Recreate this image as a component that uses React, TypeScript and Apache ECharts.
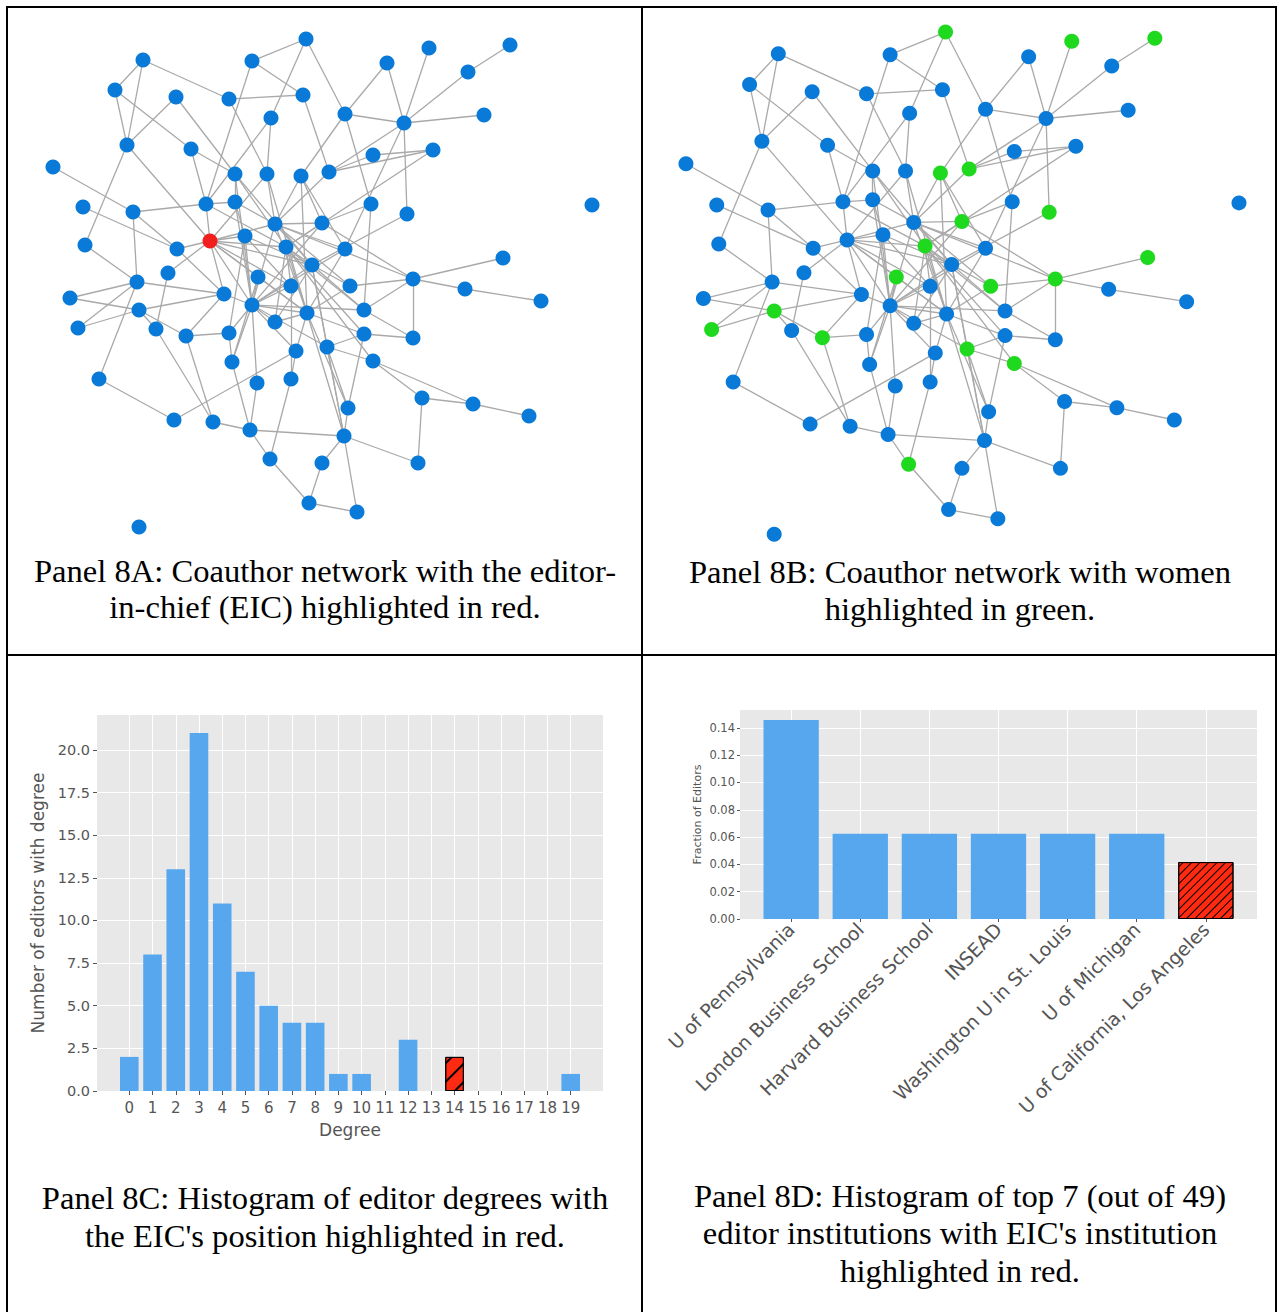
import React, { useEffect, useRef } from 'react';
import * as echarts from 'echarts';

const nodeX = [143,115,176,252,306,229,303,271,387,429,468,510,345,404,484,127,191,433,373,53,235,267,301,329,83,133,206,235,371,407,592,85,177,210,245,275,322,286,345,168,137,258,312,503,413,70,224,252,291,350,465,541,139,78,156,186,229,275,307,364,364,413,296,327,232,373,99,257,291,422,473,529,348,174,213,250,344,270,322,418,309,357,139];
const nodeY = [60,90,97,61,39,99,95,118,63,48,72,45,114,123,115,145,149,150,155,167,174,174,176,172,207,212,204,202,204,214,205,245,249,241,236,224,223,247,249,273,282,277,265,258,279,298,294,305,286,286,289,301,310,328,329,336,333,322,313,310,334,338,351,347,362,361,379,383,379,398,404,416,408,420,422,430,436,459,463,463,503,512,527];

const edges: [number, number][] = [
  [1,2],[1,6],[1,16],[2,16],[2,17],[3,16],[3,21],[4,5],[4,7],[4,27],[5,8],[5,13],[6,7],[6,22],[7,24],[8,22],[8,27],
  [9,13],[9,14],[10,14],[11,14],[11,12],[14,15],[13,14],[14,30],[14,24],[14,39],[13,29],[13,23],[18,19],[18,24],[19,24],[29,37],[29,60],[30,43],[37,45],[44,45],
  [16,32],[16,34],[17,21],[17,27],[20,26],[25,33],[26,27],[26,41],[26,33],[32,41],[21,28],[27,28],[27,34],[28,35],[34,35],[33,34],[22,36],
  [45,50],[45,51],[51,52],[45,62],[60,62],[45,60],[61,62],[61,64],[66,70],[66,71],[70,71],[71,72],[70,80],[77,80],[77,82],[77,79],[81,82],[61,73],[64,66],
  [41,46],[46,53],[53,54],[41,54],[41,67],[67,74],[63,74],[55,75],[56,75],[75,76],[76,77],[76,78],[78,81],[69,78],[65,76],[68,76],[57,65],[56,57],[47,56],[47,53],[53,56],[40,55],[48,68],[48,57],[48,58],[47,48],[42,48],[48,49],[58,59],[63,69],[79,81],[41,47],[53,55],
  [34,36],[34,38],[34,42],[34,47],[34,48],[34,49],[34,43],[34,59],[34,40],[34,22],
  [21,48],[28,48],[35,48],[36,48],[37,48],[39,48],[43,48],[48,59],[48,60],[48,63],[48,64],[48,65],
  [22,59],[23,59],[36,59],[38,59],[39,59],[50,59],[59,61],[59,63],[59,73],[59,77],[42,59],
  [23,36],[28,36],[36,37],[36,43],[36,50],[24,36],[36,39],[36,45],
  [21,43],[35,43],[38,43],[43,50],[43,58],[43,60],[43,64],[43,77],
  [21,38],[27,38],[37,38],[38,49],[38,58],[38,60],[38,61],[38,66],[18,38],
  [35,49],[35,57],[23,37],[23,39],[42,65],[49,69],[64,73],[64,77],[73,77],[33,47]
];
const eicNode = 34;
const womenNodes = [5,10,12,23,24,30,37,38,42,44,45,50,53,54,56,64,66,78];

// ---------- Panel 8C data ----------
const degreeLabels = ['0','1','2','3','4','5','6','7','8','9','10','11','12','13','14','15','16','17','18','19'];
const degreeCounts = [2,8,13,21,11,7,5,4,4,1,1,0,3,0,2,0,0,0,0,1];
const eicDegree = 14;
const yTicksC = [0,2.5,5,7.5,10,12.5,15,17.5,20];

// ---------- Panel 8D data ----------
const institutions = ['U of Pennsylvania','London Business School','Harvard Business School','INSEAD','Washington U in St. Louis','U of Michigan','U of California, Los Angeles'];
const institutionFractions = [0.1458,0.0625,0.0625,0.0625,0.0625,0.0625,0.0417];
const eicInstitution = 6;
const yTicksD = [0,0.02,0.04,0.06,0.08,0.1,0.12,0.14];

const BLUE = '#0A7AD8';
const GREEN = '#1FD91F';
const RED = '#F21E1E';
const BAR = '#56A7EE';
const HATCH_RED = '#FF2A12';
const PLOT_BG = '#E8E8E8';
const TICK = '#555555';
const SANS = 'DejaVu Sans';
const SERIF = 'Liberation Serif';

const captions = [
  { x: 325, ys: [571, 607], lines: ['Panel 8A: Coauthor network with the editor-', 'in-chief (EIC) highlighted in red.'] },
  { x: 960, ys: [572, 609], lines: ['Panel 8B: Coauthor network with women', 'highlighted in green.'] },
  { x: 325, ys: [1198, 1236], lines: ['Panel 8C: Histogram of editor degrees with', "the EIC's position highlighted in red."] },
  { x: 960, ys: [1196, 1233, 1271], lines: ['Panel 8D: Histogram of top 7 (out of 49)', "editor institutions with EIC's institution", 'highlighted in red.'] },
];

function networkSeries(idx: number, colorOf: (n: number) => string) {
  return {
    type: 'graph',
    coordinateSystem: 'cartesian2d',
    xAxisIndex: idx,
    yAxisIndex: idx,
    symbol: 'circle',
    symbolSize: 15,
    silent: true,
    label: { show: false },
    lineStyle: { color: '#A9A9A9', width: 1.3, opacity: 1 },
    data: nodeX.map((x, i) => ({
      name: 'n' + (i + 1),
      value: [x, nodeY[i]],
      itemStyle: { color: colorOf(i + 1) },
    })),
    links: edges.map(([s, t]) => ({ source: 'n' + s, target: 'n' + t })),
  };
}

export default function App() {
  const ref = useRef<HTMLDivElement>(null);
  useEffect(() => {
    if (!ref.current) return;
    const chart = echarts.init(ref.current, null, { renderer: 'svg' });
    const hiddenAxis = (grid: number, min: number, max: number, inverse = false) => ({
      gridIndex: grid, type: 'value', min, max, show: false, inverse,
    });
    const degreeIdx = degreeLabels.map((_, i) => i);
    const instIdx = institutions.map((_, i) => i);

    const graphic: any[] = [];
    const border = (x1: number, y1: number, x2: number, y2: number) => ({
      type: 'line', shape: { x1, y1, x2, y2 }, style: { stroke: '#000', lineWidth: 2 }, z: 100,
    });
    graphic.push(border(6, 7, 1277, 7));
    graphic.push(border(7, 7, 7, 1312));
    graphic.push(border(642, 7, 642, 1312));
    graphic.push(border(1276, 7, 1276, 1312));
    graphic.push(border(7, 655, 1277, 655));
    captions.forEach((c) => {
      c.lines.forEach((line, k) => {
        graphic.push({
          type: 'text', x: c.x, y: c.ys[k], z: 100,
          style: {
            text: line, fill: '#000', fontSize: 32.6, fontFamily: SERIF,
            align: 'center', verticalAlign: 'middle', textAlign: 'center', textVerticalAlign: 'middle',
          },
        });
      });
    });

    chart.setOption({
      animation: false,
      backgroundColor: '#fff',
      grid: [
        { left: 20, top: 20, width: 600, height: 530 },
        { left: 652.1, top: 12.5, width: 615.6, height: 545.4 },
        { left: 97, top: 715, width: 506, height: 376, show: true, backgroundColor: PLOT_BG, borderWidth: 0 },
        { left: 740, top: 710, width: 517, height: 209, show: true, backgroundColor: PLOT_BG, borderWidth: 0 },
      ],
      xAxis: [
        hiddenAxis(0, 20, 620),
        hiddenAxis(1, 20, 620),
        {
          gridIndex: 2, type: 'value', min: -1.39, max: 20.39,
          axisLine: { show: false, onZero: false },
          axisTick: { show: true, customValues: degreeIdx, length: 4, lineStyle: { color: TICK } },
          axisLabel: { customValues: degreeIdx, formatter: (v: number) => degreeLabels[Math.round(v)], color: TICK, fontSize: 15, fontFamily: SANS, margin: 9 },
          splitLine: { show: true, lineStyle: { color: '#fff', width: 1 } },
          name: 'Degree', nameLocation: 'middle', nameGap: 30,
          nameTextStyle: { color: TICK, fontSize: 17, fontFamily: SANS },
        },
        {
          gridIndex: 3, type: 'value', min: -0.74, max: 6.74,
          axisLine: { show: false, onZero: false },
          axisTick: { show: true, customValues: instIdx, length: 3, lineStyle: { color: TICK } },
          axisLabel: { customValues: instIdx, formatter: (v: number) => institutions[Math.round(v)], color: TICK, fontSize: 19, fontFamily: SANS, rotate: 45, margin: 7 },
          splitLine: { show: true, lineStyle: { color: '#fff', width: 1 } },
        },
      ],
      yAxis: [
        hiddenAxis(0, 20, 550, true),
        hiddenAxis(1, 20, 550, true),
        {
          gridIndex: 2, type: 'value', min: 0, max: 22.05,
          axisLine: { show: false, onZero: false },
          axisTick: { show: true, customValues: yTicksC, length: 4, lineStyle: { color: TICK } },
          axisLabel: { customValues: yTicksC, formatter: (v: number) => v.toFixed(1), color: TICK, fontSize: 14.5, fontFamily: SANS, margin: 7 },
          splitLine: { show: true, lineStyle: { color: '#fff', width: 1 } },
          name: 'Number of editors with degree', nameLocation: 'middle', nameGap: 51, nameRotate: 90,
          nameTextStyle: { color: TICK, fontSize: 17, fontFamily: SANS },
        },
        {
          gridIndex: 3, type: 'value', min: 0, max: 0.1531,
          axisLine: { show: false, onZero: false },
          axisTick: { show: true, customValues: yTicksD, length: 3, lineStyle: { color: TICK } },
          axisLabel: { customValues: yTicksD, formatter: (v: number) => v.toFixed(2), color: TICK, fontSize: 11.5, fontFamily: SANS, margin: 5 },
          splitLine: { show: true, lineStyle: { color: '#fff', width: 1 } },
          name: 'Fraction of Editors', nameLocation: 'middle', nameGap: 37, nameRotate: 90,
          nameTextStyle: { color: TICK, fontSize: 11, fontFamily: SANS },
        },
      ],
      series: [
        networkSeries(0, (n) => (n === eicNode ? RED : BLUE)),
        networkSeries(1, (n) => (womenNodes.includes(n) ? GREEN : BLUE)),
        {
          type: 'bar', xAxisIndex: 2, yAxisIndex: 2, barWidth: 18.6, silent: true,
          itemStyle: { color: BAR },
          data: degreeCounts.map((c, i) =>
            i === eicDegree
              ? {
                  value: [i, c],
                  itemStyle: {
                    color: HATCH_RED, borderColor: '#000', borderWidth: 1,
                    decal: { symbol: 'rect', symbolSize: 1, dashArrayX: [1, 0], dashArrayY: [1.3, 11], rotation: -Math.PI / 4, color: '#000' },
                  },
                }
              : [i, c]
          ),
        },
        {
          type: 'bar', xAxisIndex: 3, yAxisIndex: 3, barWidth: 55.3, silent: true,
          itemStyle: { color: BAR },
          data: institutionFractions.map((f, i) =>
            i === eicInstitution
              ? {
                  value: [i, f],
                  itemStyle: {
                    color: HATCH_RED, borderColor: '#000', borderWidth: 1,
                    decal: { symbol: 'rect', symbolSize: 1, dashArrayX: [1, 0], dashArrayY: [1, 4.5], rotation: -Math.PI / 4, color: '#000' },
                  },
                }
              : [i, f]
          ),
        },
      ],
      graphic,
    });
    return () => chart.dispose();
  }, []);
  return (
    <div
      ref={ref}
      style={{ position: 'absolute', left: 0, top: 0, width: 1277, height: 1312, background: '#fff' }}
    />
  );
}
